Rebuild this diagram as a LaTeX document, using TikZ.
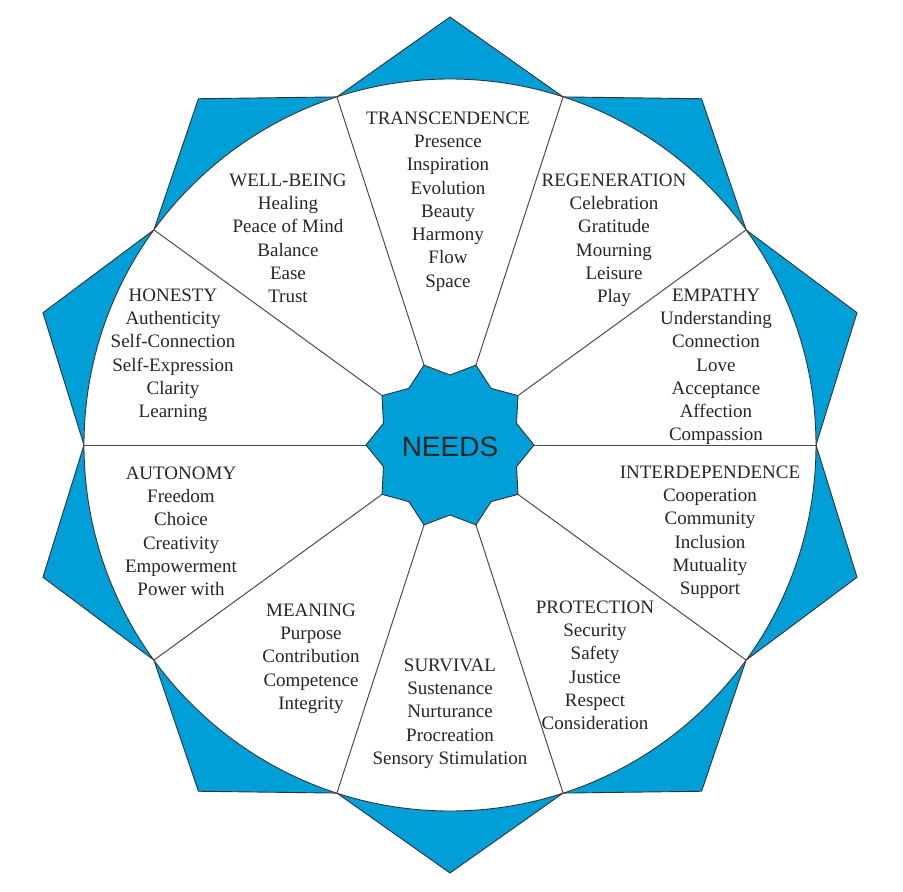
\documentclass[tikz,border=0pt]{standalone}
\usepackage{fontspec}
\setmainfont{Liberation Serif}
\newfontfamily\needsfont{Liberation Sans}
\definecolor{needblue}{RGB}{0,159,216}
\begin{document}
\begin{tikzpicture}[x=1pt,y=1pt,
  needtext/.style={align=center, anchor=north, inner sep=0pt, font=\fontsize{19}{23.25}\selectfont, text=black!85},
  spoke/.style={draw=black!70, line width=1pt},
  outline/.style={draw=black!80, line width=0.9pt}]
\useasboundingbox (-450,-447) rectangle (453,445);
% outer star
\filldraw[fill=needblue, outline, line join=miter]
  (0:366) \foreach \k in {0,...,9} { -- (\k*36+18:428) -- (\k*36+36:366) } -- cycle;
% circle
\filldraw[fill=white, outline] (0,0) circle (366);
% coordinates
\foreach \k in {0,...,9} {
  \coordinate (c\k) at (\k*36:366);
  \coordinate (s\k) at (\k*36:84);
}
\foreach \k in {0,...,9} \draw[spoke] (s\k) -- (c\k);
% central star
\filldraw[fill=needblue, outline]
  (0:84) \foreach \k in {0,...,9} { -- (\k*36+18:70) -- (\k*36+36:84) } -- cycle;
\node[font=\needsfont\fontsize{28}{30}\selectfont, text=black!85, inner sep=0pt] (needs) at (0,-2) {NEEDS};
% texts
\node[needtext] (transcendence) at (-2,333.3) {TRANSCENDENCE\\Presence\\Inspiration\\Evolution\\Beauty\\Harmony\\Flow\\Space};
\node[needtext] (regeneration) at (164,271.3) {REGENERATION\\Celebration\\Gratitude\\Mourning\\Leisure\\Play};
\node[needtext] (empathy) at (266,156.3) {EMPATHY\\Understanding\\Connection\\Love\\Acceptance\\Affection\\Compassion};
\node[needtext] (interdependence) at (260,-20.7) {INTERDEPENDENCE\\Cooperation\\Community\\Inclusion\\Mutuality\\Support};
\node[needtext] (protection) at (145,-155.7) {PROTECTION\\Security\\Safety\\Justice\\Respect\\Consideration};
\node[needtext] (survival) at (0,-213.7) {SURVIVAL\\Sustenance\\Nurturance\\Procreation\\Sensory Stimulation};
\node[needtext] (meaning) at (-139,-158.7) {MEANING\\Purpose\\Contribution\\Competence\\Integrity};
\node[needtext] (autonomy) at (-269,-21.7) {AUTONOMY\\Freedom\\Choice\\Creativity\\Empowerment\\Power with};
\node[needtext] (honesty) at (-277,156.3) {HONESTY\\Authenticity\\Self-Connection\\Self-Expression\\Clarity\\Learning};
\node[needtext] (wellbeing) at (-162,271.3) {WELL-BEING\\Healing\\Peace of Mind\\Balance\\Ease\\Trust};
\end{tikzpicture}
\end{document}
